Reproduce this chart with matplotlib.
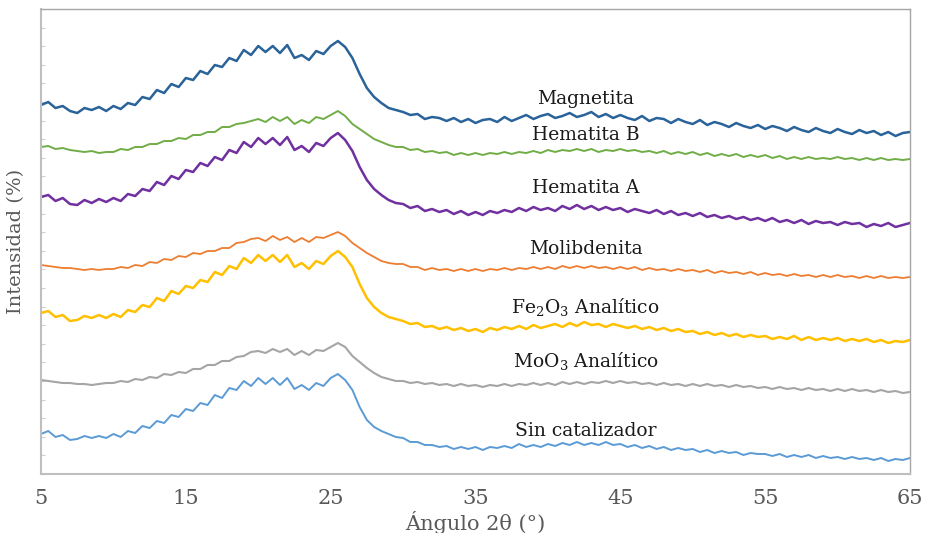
import numpy as np
import matplotlib
matplotlib.use("Agg")
import matplotlib.pyplot as plt
from matplotlib.ticker import MultipleLocator

plt.rcParams['font.family'] = ['DejaVu Serif']
plt.rcParams['mathtext.fontset'] = 'dejavuserif'

# 2-theta grid, 0.5 degree steps from 5 to 65 (121 points)
angle = np.linspace(5, 65, 121)

# intensities (arbitrary units, curves already stacked with offsets)
magnetita = [369, 372, 366, 368, 363, 361, 366, 364, 367, 363,
             368, 365, 371, 369, 377, 375, 384, 381, 390, 387,
             396, 394, 403, 400, 409, 407, 416, 413, 424, 419,
             428, 422, 428, 421, 429, 416, 419, 414, 423, 420,
             428, 433, 427, 416, 400, 386, 377, 371, 366, 364,
             362, 359, 360, 355, 357, 356, 353, 356, 352, 355,
             351, 354, 355, 352, 357, 353, 356, 359, 355, 358,
             360, 356, 358, 361, 357, 359, 362, 357, 360, 356,
             359, 356, 354, 358, 353, 356, 355, 351, 355, 352,
             350, 354, 349, 352, 350, 347, 351, 348, 346, 349,
             345, 348, 346, 343, 347, 344, 342, 346, 343, 341,
             345, 342, 340, 344, 341, 343, 339, 342, 338, 341,
             342]

hematita_b = [327, 328, 325, 326, 324, 323, 322, 323, 321, 322,
              322, 325, 324, 327, 327, 330, 330, 333, 333, 336,
              335, 339, 339, 342, 342, 347, 347, 350, 351, 353,
              355, 352, 357, 353, 357, 350, 354, 351, 357, 355,
              359, 363, 358, 350, 345, 340, 335, 332, 329, 327,
              327, 324, 325, 322, 323, 321, 322, 319, 321, 319,
              321, 319, 321, 320, 322, 320, 322, 321, 323, 321,
              324, 322, 324, 323, 325, 323, 325, 322, 324, 323,
              325, 323, 324, 322, 323, 321, 323, 320, 322, 320,
              322, 319, 321, 318, 320, 318, 320, 317, 319, 317,
              319, 316, 318, 315, 317, 315, 317, 315, 316, 315,
              317, 315, 316, 314, 316, 314, 316, 314, 315, 314,
              315]

hematita_a = [277, 279, 273, 276, 270, 269, 274, 271, 275, 272,
              276, 273, 280, 278, 285, 283, 292, 289, 298, 295,
              304, 302, 311, 308, 317, 314, 324, 321, 332, 327,
              336, 330, 336, 329, 337, 324, 328, 322, 331, 328,
              336, 341, 334, 323, 307, 294, 285, 279, 274, 271,
              270, 266, 268, 263, 265, 262, 264, 260, 263, 259,
              262, 259, 263, 261, 264, 262, 266, 263, 267, 264,
              266, 263, 268, 265, 269, 265, 268, 264, 267, 264,
              266, 262, 265, 263, 261, 264, 260, 263, 259, 261,
              258, 261, 257, 259, 256, 258, 255, 257, 254, 256,
              253, 256, 252, 254, 251, 254, 250, 253, 251, 252,
              249, 252, 250, 251, 247, 250, 248, 251, 247, 249,
              251]

molibdenita = [209, 208, 207, 206, 206, 205, 204, 205, 204, 205,
               205, 207, 206, 209, 208, 212, 211, 215, 214, 218,
               217, 221, 220, 223, 223, 226, 226, 231, 232, 235,
               236, 233, 238, 234, 237, 232, 236, 232, 237, 236,
               239, 242, 238, 231, 226, 221, 217, 213, 211, 210,
               210, 207, 207, 204, 206, 204, 205, 203, 205, 203,
               205, 203, 205, 204, 206, 204, 206, 205, 207, 205,
               207, 205, 208, 206, 208, 206, 208, 206, 207, 205,
               207, 205, 207, 204, 206, 204, 205, 203, 205, 203,
               204, 202, 204, 201, 203, 201, 202, 200, 202, 199,
               201, 199, 200, 198, 200, 198, 199, 197, 199, 197,
               199, 197, 198, 196, 198, 196, 198, 196, 197, 196,
               197]

fe2o3 = [161, 163, 157, 159, 153, 154, 158, 156, 159, 156,
         160, 157, 164, 162, 169, 167, 176, 173, 183, 180,
         188, 186, 194, 192, 202, 199, 208, 205, 216, 211,
         219, 213, 219, 212, 219, 207, 211, 205, 213, 210,
         218, 223, 217, 207, 190, 176, 167, 161, 157, 155,
         153, 150, 151, 147, 148, 145, 147, 144, 146, 143,
         145, 142, 146, 144, 147, 145, 148, 145, 149, 146,
         148, 150, 147, 151, 148, 152, 149, 150, 147, 150,
         148, 146, 148, 145, 147, 144, 146, 143, 145, 142,
         143, 140, 142, 139, 141, 138, 140, 137, 139, 137,
         138, 135, 137, 135, 138, 134, 137, 134, 136, 134,
         136, 133, 135, 133, 135, 132, 134, 131, 133, 132,
         134]

moo3 = [94, 93, 92, 91, 91, 90, 90, 89, 90, 91,
        91, 93, 92, 95, 94, 97, 96, 100, 99, 102,
        101, 105, 105, 109, 109, 113, 113, 117, 118, 122,
        123, 121, 125, 122, 125, 119, 123, 119, 124, 123,
        127, 131, 127, 118, 112, 106, 101, 97, 95, 93,
        93, 91, 92, 90, 91, 89, 90, 88, 90, 88,
        89, 87, 89, 88, 90, 88, 90, 89, 91, 89,
        91, 89, 92, 90, 92, 90, 92, 91, 93, 91,
        93, 91, 92, 90, 91, 89, 91, 89, 90, 88,
        90, 88, 90, 88, 89, 87, 89, 87, 88, 86,
        87, 85, 87, 85, 86, 84, 86, 84, 85, 83,
        85, 83, 85, 83, 84, 82, 84, 82, 83, 81,
        82]

sin_cat = [40, 43, 37, 39, 34, 35, 38, 36, 38, 36,
           40, 37, 43, 41, 48, 46, 53, 51, 59, 57,
           65, 63, 71, 69, 79, 76, 86, 84, 93, 88,
           96, 90, 96, 89, 96, 85, 89, 84, 91, 88,
           96, 100, 94, 84, 67, 54, 47, 43, 40, 37,
           36, 32, 32, 29, 29, 27, 28, 25, 27, 25,
           27, 24, 27, 26, 28, 26, 30, 27, 29, 27,
           30, 28, 31, 29, 32, 29, 31, 29, 32, 29,
           30, 27, 29, 26, 28, 25, 27, 24, 26, 24,
           25, 22, 24, 21, 23, 21, 22, 19, 21, 20,
           20, 18, 20, 17, 19, 17, 19, 16, 18, 16,
           17, 15, 17, 15, 16, 14, 16, 13, 15, 14,
           16]

names = ['Magnetita', 'Hematita B', 'Hematita A', 'Molibdenita',
         'Fe$_2$O$_3$ Analítico', 'MoO$_3$ Analítico', 'Sin catalizador']
series = [magnetita, hematita_b, hematita_a, molibdenita, fe2o3, moo3, sin_cat]
colors = ['#2A6399', '#70AD47', '#7030A0', '#ED7D31', '#FFC000', '#A5A5A5', '#5B9BD5']
widths = [1.8, 1.4, 1.8, 1.3, 1.8, 1.5, 1.4]
label_y = [375, 339, 286, 225, 167, 113, 43]

fig = plt.figure(figsize=(9.28, 5.33), dpi=100)
ax = fig.add_axes([0.0442, 0.1107, 0.9364, 0.8724])

for vals, c, lw in zip(series, colors, widths):
    ax.plot(angle, vals, color=c, lw=lw)

for name, ly in zip(names, label_y):
    ax.text(42.6, ly, name, ha='center', va='center', fontsize=13.5, color='#1a1a1a')

ax.set_xlim(5, 65)
ax.set_ylim(0, 465)
ax.set_xticks(np.arange(5, 66, 10))
ax.yaxis.set_major_locator(MultipleLocator(465 / 25))
ax.set_yticklabels([])
ax.tick_params(axis='x', length=0, pad=11, labelsize=15, labelcolor='#595959')
ax.tick_params(axis='y', direction='in', length=3, color='#D0D0D0')

for side in ['top', 'right']:
    ax.spines[side].set_color('#A6A6A6')
    ax.spines[side].set_linewidth(1.0)
for side in ['left', 'bottom']:
    ax.spines[side].set_color('#BFBFBF')
    ax.spines[side].set_linewidth(1.5)

ax.set_xlabel('Ángulo 2θ (°)', fontsize=15, color='#595959', labelpad=2)
ax.set_ylabel('Intensidad (%)', fontsize=14, color='#595959', labelpad=8)

fig.savefig('out.png', dpi=100)
